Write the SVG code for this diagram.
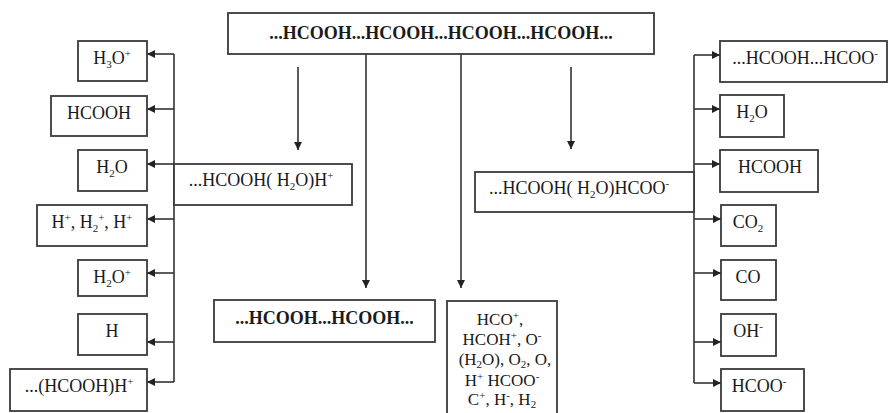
<svg xmlns="http://www.w3.org/2000/svg" width="888" height="413" viewBox="0 0 888 413">
<style>
.box{fill:#fff;stroke:#3a3a3a;stroke-width:1.8}
.ln{fill:none;stroke:#333;stroke-width:1.6}
text{font-family:"Liberation Serif","Times New Roman",serif;font-size:18px;fill:#1a1a1a;text-anchor:middle}
.b{font-weight:bold;font-size:18px}
.s{font-size:11px}
.l{font-size:17px}
</style>
<defs>
<marker id="ah" viewBox="0 0 10 10" refX="10" refY="5" markerWidth="9" markerHeight="8" markerUnits="userSpaceOnUse" orient="auto">
<path d="M0,0 L10,5 L0,10 z" fill="#222"/>
</marker>
</defs>
<rect width="888" height="413" fill="#fff"/>

<g id="connectors">
<line class="ln" x1="298" y1="67" x2="298" y2="150" marker-end="url(#ah)"/>
<line class="ln" x1="366" y1="54" x2="366" y2="288" marker-end="url(#ah)"/>
<line class="ln" x1="461" y1="54" x2="461" y2="288" marker-end="url(#ah)"/>
<line class="ln" x1="571" y1="67" x2="571" y2="149" marker-end="url(#ah)"/>
<line class="ln" x1="174" y1="54" x2="174" y2="382"/>
<line class="ln" x1="174" y1="54" x2="147" y2="54" marker-end="url(#ah)"/>
<line class="ln" x1="174" y1="109" x2="147" y2="109" marker-end="url(#ah)"/>
<line class="ln" x1="174" y1="164" x2="147" y2="164" marker-end="url(#ah)"/>
<line class="ln" x1="174" y1="219" x2="147" y2="219" marker-end="url(#ah)"/>
<line class="ln" x1="174" y1="273" x2="147" y2="273" marker-end="url(#ah)"/>
<line class="ln" x1="174" y1="342" x2="147" y2="342" marker-end="url(#ah)"/>
<line class="ln" x1="174" y1="382" x2="147" y2="382" marker-end="url(#ah)"/>
<line class="ln" x1="694" y1="55" x2="694" y2="383"/>
<line class="ln" x1="694" y1="55" x2="720" y2="55" marker-end="url(#ah)"/>
<line class="ln" x1="694" y1="109" x2="720" y2="109" marker-end="url(#ah)"/>
<line class="ln" x1="694" y1="164" x2="720" y2="164" marker-end="url(#ah)"/>
<line class="ln" x1="694" y1="219" x2="721" y2="219" marker-end="url(#ah)"/>
<line class="ln" x1="694" y1="273" x2="721" y2="273" marker-end="url(#ah)"/>
<line class="ln" x1="694" y1="342" x2="721" y2="342" marker-end="url(#ah)"/>
<line class="ln" x1="694" y1="383" x2="721" y2="383" marker-end="url(#ah)"/>
</g>

<g id="top">
<rect class="box" x="228" y="13" width="426" height="41"/>
<text class="b" x="441" y="39">...HCOOH...HCOOH...HCOOH...HCOOH...</text>
</g>

<g id="l-h3o">
<rect class="box" x="78" y="41" width="69" height="40"/>
<text x="112" y="64">H<tspan class="s" dy="4">3</tspan><tspan dy="-4">O</tspan><tspan class="s" dy="-7">+</tspan></text>
</g>
<g id="l-hcooh">
<rect class="box" x="51" y="96" width="96" height="40"/>
<text x="99" y="119">HCOOH</text>
</g>
<g id="l-h2o">
<rect class="box" x="78" y="150" width="69" height="41"/>
<text x="112" y="173">H<tspan class="s" dy="4">2</tspan><tspan dy="-4">O</tspan></text>
</g>
<g id="l-hplus">
<rect class="box" x="37" y="205" width="110" height="41"/>
<text x="92" y="228">H<tspan class="s" dy="-7">+</tspan><tspan dy="7">, H</tspan><tspan class="s" dy="4">2</tspan><tspan class="s" dy="-11">+</tspan><tspan dy="7">, H</tspan><tspan class="s" dy="-7">+</tspan></text>
</g>
<g id="l-h2oplus">
<rect class="box" x="78" y="260" width="69" height="36"/>
<text x="112" y="283">H<tspan class="s" dy="4">2</tspan><tspan dy="-4">O</tspan><tspan class="s" dy="-7">+</tspan></text>
</g>
<g id="l-h">
<rect class="box" x="78" y="314" width="69" height="41"/>
<text x="112" y="337">H</text>
</g>
<g id="l-hcoohh">
<rect class="box" x="10" y="369" width="137" height="42"/>
<text x="79" y="392">...(HCOOH)H<tspan class="s" dy="-7">+</tspan></text>
</g>

<g id="mid-left">
<rect class="box" x="174" y="164" width="178" height="41"/>
<text x="261" y="186">...HCOOH( H<tspan class="s" dy="4">2</tspan><tspan dy="-4">O)H</tspan><tspan class="s" dy="-7">+</tspan></text>
</g>
<g id="mid-right">
<rect class="box" x="475" y="172" width="219" height="40"/>
<text x="579" y="194">...HCOOH( H<tspan class="s" dy="4">2</tspan><tspan dy="-4">O)HCOO</tspan><tspan class="s" dy="-7">-</tspan></text>
</g>
<g id="dimer">
<rect class="box" x="214" y="300" width="221" height="42"/>
<text class="b" x="324.5" y="324">...HCOOH...HCOOH...</text>
</g>
<g id="list">
<rect class="box" x="447" y="301" width="110" height="125"/>
<text class="l" x="500" y="325">HCO<tspan class="s" dy="-6">+</tspan><tspan dy="6">,</tspan></text>
<text class="l" x="502" y="345">HCOH<tspan class="s" dy="-6">+</tspan><tspan dy="6">, O</tspan><tspan class="s" dy="-6">-</tspan></text>
<text class="l" x="505" y="365">(H<tspan class="s" dy="3">2</tspan><tspan dy="-3">O), O</tspan><tspan class="s" dy="3">2</tspan><tspan dy="-3">, O,</tspan></text>
<text class="l" x="502" y="386">H<tspan class="s" dy="-6">+</tspan><tspan dy="6"> HCOO</tspan><tspan class="s" dy="-6">-</tspan></text>
<text class="l" x="502" y="405">C<tspan class="s" dy="-6">+</tspan><tspan dy="6">, H</tspan><tspan class="s" dy="-6">-</tspan><tspan dy="6">, H</tspan><tspan class="s" dy="3">2</tspan></text>
</g>

<g id="r-hcoo-dimer">
<rect class="box" x="720" y="41" width="167" height="41"/>
<text x="805" y="64">...HCOOH...HCOO<tspan class="s" dy="-7">-</tspan></text>
</g>
<g id="r-h2o">
<rect class="box" x="720" y="95" width="64" height="42"/>
<text x="752" y="118">H<tspan class="s" dy="4">2</tspan><tspan dy="-4">O</tspan></text>
</g>
<g id="r-hcooh">
<rect class="box" x="720" y="150" width="98" height="42"/>
<text x="770" y="173">HCOOH</text>
</g>
<g id="r-co2">
<rect class="box" x="721" y="205" width="55" height="41"/>
<text x="748" y="228">CO<tspan class="s" dy="4">2</tspan></text>
</g>
<g id="r-co">
<rect class="box" x="721" y="260" width="55" height="40"/>
<text x="748" y="283">CO</text>
</g>
<g id="r-oh">
<rect class="box" x="721" y="314" width="55" height="42"/>
<text x="748" y="337">OH<tspan class="s" dy="-7">-</tspan></text>
</g>
<g id="r-hcoo">
<rect class="box" x="721" y="369" width="83" height="42"/>
<text x="759" y="392">HCOO<tspan class="s" dy="-7">-</tspan></text>
</g>
</svg>
